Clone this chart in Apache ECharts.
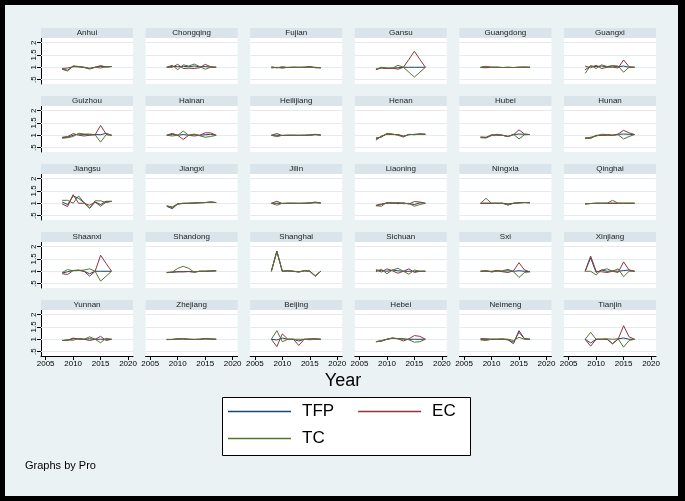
<!DOCTYPE html>
<html><head><meta charset="utf-8">
<script src="https://cdn.jsdelivr.net/npm/echarts@6/dist/echarts.min.js"></script>
<style>html,body{margin:0;padding:0;background:#000}#c{width:685px;height:501px}</style>
</head><body><div id="c"></div>
<script>
const years=[2008,2009,2010,2011,2012,2013,2014,2015,2016,2017];
const provinces=["Anhui","Chongqing","Fujian","Gansu","Guangdong","Guangxi",
"Guizhou","Hainan","Heilijiang","Henan","Hubei","Hunan",
"Jiangsu","Jiangxi","Jilin","Liaoning","Ningxia","Qinghai",
"Shaanxi","Shandong","Shanghai","Sichuan","Sxi","Xinjiang",
"Yunnan","Zhejiang","Beijing","Hebei","Neimeng","Tianjin"];
const xTicks=[2005,2010,2015,2020];
const yTicks=[0.5,1,1.5,2];

const TFP=[
[0.92,0.88,1.04,1.02,1.00,0.94,1.00,1.03,1.02,1.03],
[1.00,1.04,1.02,1.04,1.02,1.05,1.02,1.03,1.01,1.00],
[1.00,0.98,1.00,0.99,1.00,1.00,1.00,1.02,0.99,0.98],
[0.92,0.97,0.96,0.96,0.98,1.00,1.00,1.00,1.00,1.00],
[1.00,1.01,1.00,1.00,0.99,1.00,0.99,1.00,1.00,1.00],
[0.90,1.05,1.03,1.05,1.02,1.05,1.02,1.05,1.00,1.00],
[0.90,0.92,1.00,1.05,1.03,1.02,1.03,1.02,1.08,1.00],
[1.00,1.03,1.00,1.03,1.00,1.02,1.00,1.02,1.04,1.00],
[1.00,1.00,0.99,1.00,1.00,1.00,1.00,1.01,1.03,1.01],
[0.85,0.95,1.06,1.04,1.02,0.95,1.03,1.03,1.05,1.04],
[0.92,0.90,1.00,1.02,1.00,0.95,1.03,1.05,1.04,1.03],
[0.88,0.90,0.98,1.00,1.02,1.00,1.04,1.05,1.04,1.03],
[1.05,0.95,1.30,1.20,1.02,0.80,1.05,0.95,1.08,1.08],
[0.88,0.78,0.97,0.99,1.00,1.01,1.02,1.03,1.05,1.03],
[1.00,1.00,0.99,1.00,1.00,1.00,1.00,1.01,1.03,1.01],
[0.90,0.95,1.02,1.00,1.02,1.00,0.98,0.95,1.02,1.00],
[1.00,1.00,1.00,1.00,1.00,0.93,1.00,1.02,1.03,1.02],
[0.98,0.99,1.00,1.00,1.00,1.00,1.00,1.00,1.00,1.00],
[0.93,0.98,1.03,1.04,1.00,0.90,1.00,1.00,1.00,1.00],
[0.95,0.96,0.98,0.98,0.99,0.97,1.00,1.00,1.01,1.02],
[1.00,1.82,1.00,1.02,1.00,0.97,1.02,1.00,0.80,1.00],
[1.05,1.03,1.00,1.05,1.02,1.00,1.00,1.00,1.00,1.00],
[1.00,1.02,0.98,1.02,1.00,1.02,1.00,1.02,1.00,0.98],
[1.00,1.55,0.95,1.05,1.00,1.02,1.00,1.03,1.05,1.00],
[0.95,0.97,1.02,1.02,1.00,1.02,1.00,1.00,1.00,1.00],
[0.99,0.99,1.01,1.02,1.00,0.99,1.00,1.02,1.01,1.00],
[1.00,0.97,1.05,1.00,1.00,0.93,1.00,1.00,1.01,1.00],
[0.90,0.93,1.00,1.05,1.02,1.00,1.00,1.00,1.00,1.00],
[1.00,1.00,1.00,1.00,1.00,0.98,0.82,1.35,1.02,1.00],
[1.00,0.85,1.00,1.00,1.00,0.82,1.02,1.05,1.00,1.00]];

const EC=[
[0.95,0.97,1.02,1.02,1.00,0.96,1.00,1.07,1.01,1.03],
[1.00,1.00,1.12,0.95,0.96,0.95,0.98,1.12,1.02,1.00],
[1.02,0.98,1.02,0.99,1.00,0.99,1.00,1.03,0.98,0.98],
[0.90,0.98,0.95,0.97,0.92,1.00,1.32,1.65,1.32,1.00],
[0.99,0.98,1.00,1.00,0.99,0.99,0.99,1.00,1.01,1.00],
[1.05,0.98,1.08,0.95,1.00,1.00,0.97,1.30,1.02,1.00],
[0.92,0.95,1.07,1.00,0.97,1.00,1.02,1.40,1.05,1.00],
[1.00,1.08,1.00,0.83,1.00,0.97,1.00,1.10,1.10,1.00],
[1.00,1.07,0.99,1.00,1.00,0.99,1.00,1.01,1.04,1.00],
[0.80,0.97,1.04,1.03,1.03,0.97,1.02,1.04,1.05,1.04],
[0.93,0.92,1.02,1.00,1.00,0.96,1.02,1.22,1.05,1.03],
[0.90,0.87,1.00,1.00,1.00,1.00,1.05,1.20,1.10,1.03],
[0.97,0.87,1.35,1.00,1.00,0.92,1.05,0.88,1.05,1.08],
[0.90,0.85,0.98,1.00,1.00,1.01,1.02,1.03,1.05,1.03],
[1.00,1.08,0.99,1.00,1.00,0.99,1.00,1.01,1.05,1.01],
[0.92,0.97,1.00,1.03,0.98,1.02,0.97,1.07,1.05,1.00],
[1.00,1.00,1.00,1.00,1.00,0.98,1.00,1.02,1.03,1.02],
[0.97,0.99,1.00,1.00,1.00,1.00,1.00,1.00,1.00,1.00],
[0.90,0.87,1.03,1.05,1.00,0.80,1.00,1.65,1.32,1.00],
[0.95,0.97,0.98,0.98,0.99,0.97,1.00,1.00,1.01,1.02],
[1.00,1.80,1.00,1.01,1.00,0.98,1.02,1.01,0.82,1.00],
[1.05,0.97,1.10,1.02,0.92,1.00,1.10,0.95,1.00,1.00],
[1.00,1.00,1.00,1.03,0.98,0.95,1.02,1.35,1.05,0.98],
[1.00,1.62,1.00,0.98,0.95,1.00,0.95,1.38,1.05,1.00],
[0.95,0.96,1.05,1.00,1.00,0.95,1.00,1.12,0.95,1.00],
[0.98,1.00,1.02,1.01,1.00,0.99,1.00,1.03,1.01,1.00],
[1.00,0.70,1.22,1.00,1.00,0.75,1.00,1.02,1.02,1.00],
[0.90,0.95,1.00,1.05,1.02,0.93,1.02,1.15,1.12,1.00],
[1.03,1.02,1.00,1.00,1.00,0.98,0.88,1.28,1.02,1.00],
[1.00,0.72,1.00,1.00,1.00,0.82,1.00,1.55,1.10,1.00]];

const TC=[
[0.92,0.85,1.06,1.03,0.99,0.93,1.00,0.97,1.02,1.03],
[1.00,1.08,0.90,1.10,1.05,1.13,1.03,0.92,1.00,1.00],
[0.97,1.00,0.96,1.00,1.00,1.00,1.00,0.99,1.00,0.98],
[0.92,1.00,0.97,0.96,1.08,1.00,0.80,0.60,0.80,1.00],
[1.00,1.04,1.00,1.00,0.99,1.00,0.99,1.00,1.00,1.00],
[0.75,1.07,0.95,1.10,1.03,1.07,1.05,0.80,1.00,1.00],
[0.88,0.90,0.95,1.08,1.05,1.05,1.02,0.72,1.02,1.00],
[1.00,0.97,1.00,1.17,1.00,1.05,0.98,0.92,0.95,1.00],
[1.00,0.94,1.00,1.00,1.00,1.00,1.00,1.00,1.02,1.01],
[0.90,0.92,1.08,1.05,1.00,0.93,1.04,1.02,1.05,1.04],
[0.90,0.89,0.99,1.04,1.00,0.94,1.04,0.85,1.02,1.03],
[0.86,0.92,0.97,1.04,1.03,1.00,1.02,0.85,0.95,1.03],
[1.12,1.12,1.00,1.30,1.02,0.80,1.10,1.10,1.03,1.08],
[0.87,0.82,0.97,1.00,1.00,1.01,1.02,1.03,1.04,1.03],
[1.00,0.92,1.00,1.00,1.00,1.00,1.00,1.01,1.02,1.01],
[0.90,0.88,1.04,0.99,1.03,0.98,1.00,0.88,0.95,1.00],
[1.00,1.20,1.00,1.00,1.00,0.93,1.00,1.01,1.03,1.02],
[0.98,0.99,1.00,1.00,1.00,1.12,1.00,1.00,1.00,1.00],
[0.95,1.07,1.02,1.03,1.05,1.10,1.00,0.60,0.80,1.00],
[0.94,0.96,1.12,1.20,1.12,0.96,1.00,1.00,1.01,1.02],
[1.00,1.82,1.00,1.02,1.00,0.97,1.02,1.00,0.80,1.00],
[0.98,1.08,0.90,1.05,1.12,1.00,0.88,1.05,1.00,1.00],
[1.00,1.03,0.97,1.00,1.02,1.08,0.98,0.75,0.95,0.98],
[1.00,1.00,0.85,1.05,1.10,1.00,1.10,0.78,1.00,1.00],
[0.95,0.97,0.96,1.03,1.00,1.10,1.00,0.86,1.04,1.00],
[1.00,0.99,1.00,1.02,1.00,1.00,1.00,1.01,1.01,1.00],
[1.00,1.35,0.90,1.00,1.00,1.00,1.00,0.98,1.00,1.00],
[0.90,0.92,1.00,1.04,1.03,1.03,0.98,0.88,0.90,1.00],
[0.97,0.95,1.00,1.00,1.02,1.00,0.95,1.08,1.00,1.00],
[1.00,1.28,1.00,1.00,1.02,1.00,1.02,0.68,0.95,1.00]];

const COLORS={TFP:'#1a476f',EC:'#90353b',TC:'#55752f'};
const FONT='"Liberation Sans", Arial, sans-serif';
const GX0=41, GDX=104.6, GY0=38, GDY=68, GW=92, GH=46;

const grids=[],xAxes=[],yAxes=[],series=[],graphics=[];
graphics.push({type:'rect',shape:{x:0,y:0,width:685,height:501},style:{fill:'#000'},z:-10});
graphics.push({type:'rect',shape:{x:5,y:5,width:673,height:491},style:{fill:'#eaf2f3'},z:-9});

provinces.forEach((p,i)=>{
  const r=Math.floor(i/6), c=i%6;
  const left=GX0+c*GDX, top=GY0+r*GDY;
  grids.push({left:left,top:top,width:GW,height:GH,show:true,backgroundColor:'#fff',borderWidth:0});
  const bottomRow=(r===4), firstCol=(c===0);
  xAxes.push({type:'value',gridIndex:i,min:2004.15,max:2020.9,
    axisLine:{show:bottomRow,onZero:false,lineStyle:{color:'#000',width:1}},
    axisTick:{show:bottomRow,length:4,customValues:xTicks,lineStyle:{color:'#000'}},
    axisLabel:{show:bottomRow,customValues:xTicks,fontSize:8,color:'#000',margin:4,fontFamily:FONT,
      formatter:v=>String(v)},
    splitLine:{show:false}});
  yAxes.push({type:'value',gridIndex:i,min:0.32,max:2.19,
    axisLine:{show:firstCol,onZero:false,lineStyle:{color:'#000',width:1}},
    axisTick:{show:firstCol,length:4,customValues:yTicks,lineStyle:{color:'#000'}},
    axisLabel:{show:firstCol,customValues:yTicks,fontSize:8,color:'#000',margin:3,rotate:90,fontFamily:FONT,
      formatter:v=>v===0.5?'.5':String(v)},
    splitLine:{show:false}});
  series.push({type:'line',name:'grid',xAxisIndex:i,yAxisIndex:i,data:[],z:1,silent:true,
    markLine:{silent:true,z:1,symbol:'none',label:{show:false},animation:false,
      lineStyle:{color:'#e3ebee',width:1,type:'solid'},
      data:yTicks.map(v=>({yAxis:v}))}});
  [['TFP',TFP],['EC',EC],['TC',TC]].forEach(([nm,arr])=>{
    series.push({type:'line',name:nm,xAxisIndex:i,yAxisIndex:i,z:3,
      symbol:'none',animation:false,
      lineStyle:{color:COLORS[nm],width:1},itemStyle:{color:COLORS[nm]},
      data:years.map((y,k)=>[y,arr[i][k]])});
  });
  graphics.push({type:'rect',shape:{x:left,y:top-10,width:GW,height:10},style:{fill:'#d9e5ea'},z:5});
  graphics.push({type:'text',x:left+GW/2,y:top-5,style:{text:p,fill:'#222',font:'8px '+FONT,textAlign:'center',textVerticalAlign:'middle'},z:6});
});

graphics.push({type:'text',x:343,y:381,style:{text:'Year',fill:'#000',font:'18px '+FONT,textAlign:'center',textVerticalAlign:'middle'},z:6});
graphics.push({type:'rect',shape:{x:222.5,y:397.5,width:248,height:58},style:{fill:'#fff',stroke:'#000',lineWidth:1},z:5});
graphics.push({type:'text',x:25,y:466,style:{text:'Graphs by Pro',fill:'#000',font:'11px '+FONT,textAlign:'left',textVerticalAlign:'middle'},z:6});

const legendBase={itemWidth:63,itemHeight:2,itemGap:24,padding:0,z:10,
  icon:'path://M0,0L100,0L100,2L0,2Z',
  textStyle:{fontSize:17,color:'#000',fontFamily:FONT,padding:[0,0,0,6]}};
const option={
  animation:false,
  grid:grids,xAxis:xAxes,yAxis:yAxes,series:series,
  legend:[
    Object.assign({},legendBase,{data:['TFP','EC'],left:228,top:403}),
    Object.assign({},legendBase,{data:['TC'],left:228,top:430})
  ],
  graphic:graphics
};
const chart=echarts.init(document.getElementById('c'),null,{renderer:'canvas'});
chart.setOption(option);
</script></body></html>
